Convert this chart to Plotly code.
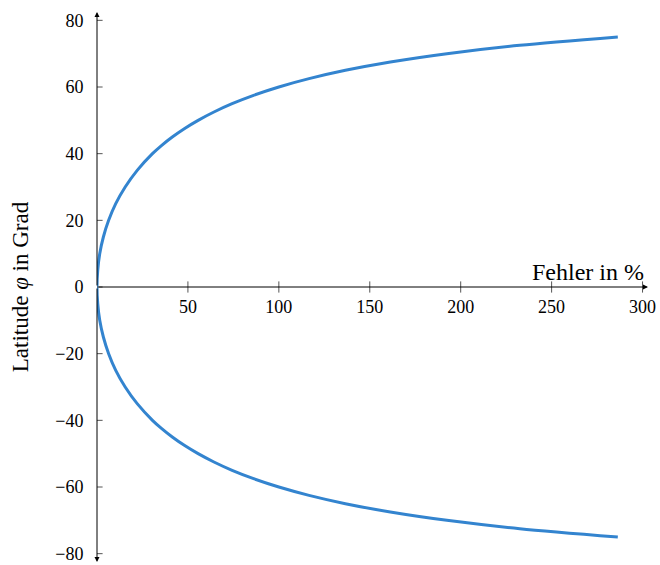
import plotly.graph_objects as go

# latitude (degrees) and error (%)
latitude = [-75, -72.5, -70, -67.5, -65, -62.5, -60, -57.5, -55, -52.5, -50, -47.5, -45, -42.5, -40,
            -35, -30, -25, -20, -15, -10, -5, 0,
            5, 10, 15, 20, 25, 30, 35,
            40, 42.5, 45, 47.5, 50, 52.5, 55, 57.5, 60, 62.5, 65, 67.5, 70, 72.5, 75]
error_pct = [286.4, 232.5, 192.4, 161.3, 136.6, 116.6, 100.0, 86.1, 74.3, 64.3, 55.6, 48.0, 41.4, 35.6, 30.5,
             22.1, 15.5, 10.3, 6.4, 3.5, 1.5, 0.4, 0.0,
             0.4, 1.5, 3.5, 6.4, 10.3, 15.5, 22.1,
             30.5, 35.6, 41.4, 48.0, 55.6, 64.3, 74.3, 86.1, 100.0, 116.6, 136.6, 161.3, 192.4, 232.5, 286.4]

x_ticks = [50, 100, 150, 200, 250, 300]
y_ticks = [-80, -60, -40, -20, 0, 20, 40, 60, 80]

X_MAX = 303
Y_MAX = 82.5
FONT = "Liberation Serif"
BLUE = "#3384cf"
TICK_COLOR = "#555555"

fig = go.Figure()

fig.add_trace(go.Scatter(
    x=error_pct, y=latitude, mode="lines",
    line=dict(color=BLUE, width=3, shape="spline", smoothing=0.8),
    hoverinfo="skip", showlegend=False,
))

# tick marks crossing the axes
fig.add_trace(go.Scatter(
    x=x_ticks, y=[0] * len(x_ticks), mode="markers",
    marker=dict(symbol="line-ns-open", size=8, color=TICK_COLOR,
                line=dict(color=TICK_COLOR, width=1)),
    hoverinfo="skip", showlegend=False,
))
fig.add_trace(go.Scatter(
    x=[0] * len(y_ticks), y=y_ticks, mode="markers",
    marker=dict(symbol="line-ew-open", size=8, color=TICK_COLOR,
                line=dict(color=TICK_COLOR, width=1)),
    hoverinfo="skip", showlegend=False,
))

axis_arrow = dict(xref="x", yref="y", axref="x", ayref="y", text="", showarrow=True,
                  arrowhead=2, arrowsize=1, arrowwidth=1, arrowcolor="black")
fig.add_annotation(x=X_MAX, y=0, ax=0, ay=0, **axis_arrow)
fig.add_annotation(x=0, y=Y_MAX, ax=0, ay=0, **axis_arrow)
fig.add_annotation(x=0, y=-Y_MAX, ax=0, ay=0, **axis_arrow)

fig.add_annotation(x=X_MAX - 1, y=0, xref="x", yref="y", text="Fehler in %",
                   showarrow=False, xanchor="right", yanchor="bottom", yshift=0,
                   font=dict(family=FONT, size=24, color="black"))

fig.update_layout(
    width=660, height=565,
    margin=dict(l=97, r=12, t=12, b=3),
    paper_bgcolor="white", plot_bgcolor="white",
    font=dict(family=FONT, size=18, color="black"),
    xaxis=dict(range=[0, X_MAX], tickvals=x_ticks, ticktext=[str(v) for v in x_ticks],
               showgrid=False, zeroline=False, showline=False,
               ticks="outside", ticklen=3, tickcolor="rgba(0,0,0,0)",
               anchor="free", position=0.5, automargin=False,
               tickfont=dict(family=FONT, size=18, color="black")),
    yaxis=dict(range=[-Y_MAX, Y_MAX], tickvals=y_ticks,
               showgrid=False, zeroline=False, showline=False,
               ticks="outside", ticklen=9, tickcolor="rgba(0,0,0,0)",
               automargin=False,
               tickfont=dict(family=FONT, size=18, color="black"),
               title=dict(text="Latitude <i>φ</i> in Grad", standoff=20,
                          font=dict(family=FONT, size=23, color="black"))),
)

fig.write_html("out.html", config={"displayModeBar": False},
               post_script="document.body.style.margin='0';document.body.style.overflow='hidden';")
